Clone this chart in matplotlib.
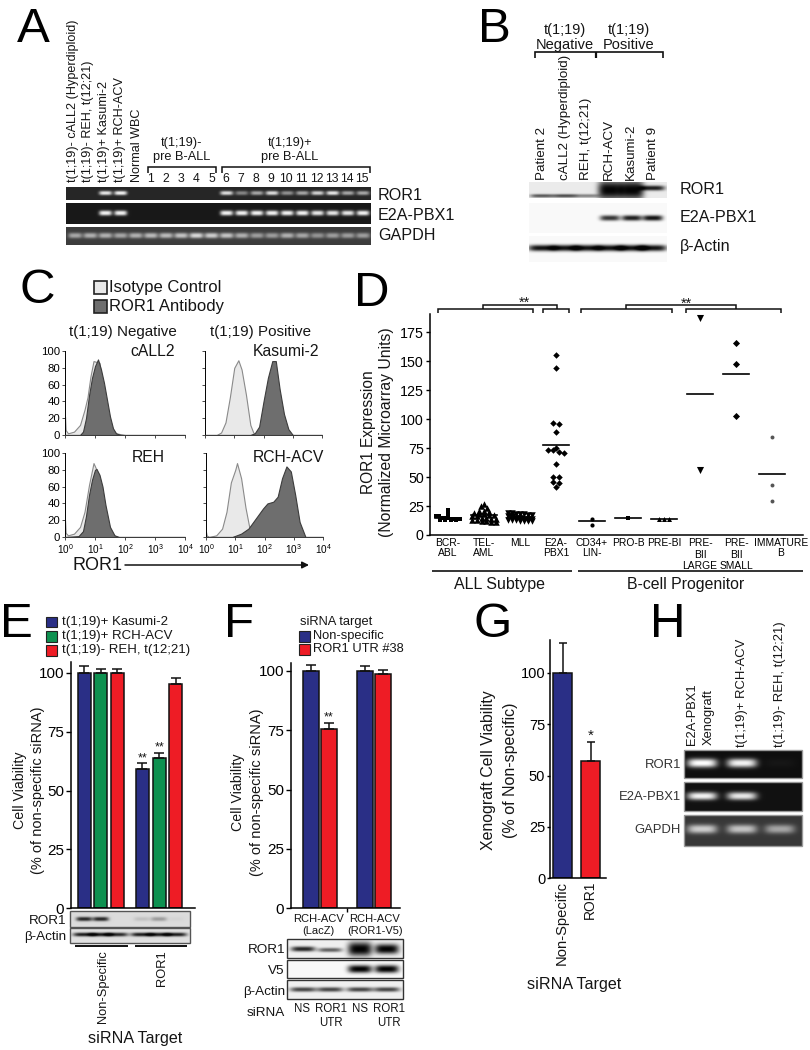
import numpy as np
import matplotlib
matplotlib.use("Agg")
import matplotlib.pyplot as plt
from matplotlib.patches import Rectangle
from matplotlib.transforms import ScaledTranslation

plt.rcParams['font.family'] = ['Liberation Sans', 'DejaVu Sans']
plt.rcParams['axes.linewidth'] = 1.1
plt.rcParams['text.color'] = '#151515'
plt.rcParams['mathtext.fontset'] = 'custom'
plt.rcParams['mathtext.rm'] = 'Liberation Sans'
plt.rcParams['mathtext.default'] = 'regular'

NAVY, GREEN, RED = '#2A2F86', '#0E9150', '#EE1C25'
LIGHT, DARK = '#E9E9E9', '#6E6E6E'

# ---------- data ----------
a_lanes_top = ["t(1;19)- cALL2 (Hyperdiploid)", "t(1;19)- REH, t(12;21)", "t(1;19)+ Kasumi-2", "t(1;19)+ RCH-ACV", "Normal WBC"]
a_numbers = [str(i) for i in range(1, 16)]
a_ror1 = [0, 0, .9, .95, 0, 0, 0, 0, 0, 0, .85, .45, .6, .85, .5, .6, .8, .9, .6, .6]
a_e2a = [0, 0, .95, .95, 0, 0, 0, 0, 0, 0, .95, .95, .95, .95, .95, .95, .9, .9, .9, .95]
a_gapdh = [.55, .6, .6, .55, .6, .65, .65, .7, .8, .75, .7, .6, .5, .5, .6, .55, .45, .5, .5, .5]

b_lanes = ["Patient 2", "cALL2 (Hyperdiploid)", "REH, t(12;21)", "RCH-ACV", "Kasumi-2", "Patient 9"]
b_ror1 = [.65, .7, .45, 1.0, 1.0, .9]
b_e2a = [0, 0, 0, .8, .9, .95]
b_actin = [.95, .95, .95, .95, .95, .95]

call2_iso_x = [0, .02, .1, .3, .5, .65, .75, .85, .95, 1.05, 1.15, 1.25, 1.4, 1.55, 1.7, 2, 4]
call2_iso_y = [22, 6, 2, 4, 12, 30, 45, 70, 88, 87, 86, 60, 28, 8, 2, 0, 0]
call2_ab_x = [0, .5, .6, .7, .8, .9, 1.0, 1.1, 1.2, 1.3, 1.4, 1.5, 1.6, 1.7, 1.85, 4]
call2_ab_y = [0, 0, 4, 20, 47, 68, 82, 90, 78, 62, 42, 22, 8, 2, 0, 0]
kas_iso_x = [0, .4, .55, .7, .85, 1.0, 1.14, 1.25, 1.4, 1.55, 1.65, 1.75, 4]
kas_iso_y = [0, 0, 3, 15, 45, 80, 89, 78, 48, 12, 3, 0, 0]
kas_ab_x = [0, 1.55, 1.7, 1.85, 2.0, 2.15, 2.3, 2.42, 2.55, 2.7, 2.85, 3.0, 4]
kas_ab_y = [0, 0, 2, 10, 40, 68, 88, 88, 55, 25, 7, 0, 0]
reh_iso_x = [0, .02, .1, .3, .5, .65, .8, .95, 1.05, 1.2, 1.35, 1.5, 1.7, 4]
reh_iso_y = [20, 5, 2, 4, 12, 30, 62, 88, 80, 55, 25, 7, 0, 0]
reh_ab_x = [0, .45, .6, .7, .8, .9, 1.0, 1.05, 1.15, 1.25, 1.35, 1.5, 1.65, 1.8, 4]
reh_ab_y = [0, 1, 7, 25, 50, 68, 80, 81, 74, 60, 38, 12, 2, 0, 0]
rch_iso_x = [0, .02, .1, .35, .55, .7, .85, 1.0, 1.06, 1.2, 1.35, 1.5, 1.65, 4]
rch_iso_y = [6, 2, 0, 2, 10, 30, 65, 80, 88, 70, 35, 8, 0, 0]
rch_ab_x = [0, .9, 1.2, 1.45, 1.7, 1.95, 2.1, 2.3, 2.45, 2.6, 2.75, 2.9, 3.05, 3.2, 3.4, 4]
rch_ab_y = [0, 0, 4, 10, 22, 34, 40, 42, 48, 70, 84, 78, 50, 18, 0, 0]

d_labels = ["BCR-\nABL", "TEL-\nAML", "MLL", "E2A-\nPBX1", "CD34+\nLIN-", "PRO-B", "PRE-BI",
            "PRE-\nBII\nLARGE", "PRE-\nBII\nSMALL", "IMMATURE\nB"]
d_values = [
    [22, 18, 16, 16, 15, 15, 15, 14, 14, 14, 14, 13, 13, 13, 13],
    [27, 25, 23, 21, 21, 20, 19, 18, 18, 17, 17, 16, 16, 15, 15, 14, 14, 13, 13, 12, 12, 11, 11],
    [19, 19, 18, 18, 18, 17, 17, 16, 16, 16, 15, 15, 15, 14, 14, 14, 14, 13, 13, 13, 12, 12, 12, 12],
    [155, 144, 97, 95.5, 89, 75, 73, 73, 71.5, 71, 61, 50, 50, 45.5, 44.5, 41.5],
    [13.5, 9], [15], [14, 14, 14], [187, 56], [166, 148, 103], [85, 43, 29]]
d_means = [15, 17, 15, 78, 12, 15, 14, 122, 139, 53]
d_markers = ['s', '^', 'v', 'D', 'o', 's', '^', 'v', 'D', 'o']
d_sizes = [10, 22, 22, 11, 9, 10, 13, 26, 13, 8]
d_colors = ['k'] * 9 + ['#555555']

e_names = ["t(1;19)+ Kasumi-2", "t(1;19)+ RCH-ACV", "t(1;19)- REH, t(12;21)"]
e_ns = [100, 100, 100]
e_ns_err = [3, 1.5, 1.5]
e_ror1 = [59, 64, 95.5]
e_ror1_err = [2.7, 2, 2.3]
e_blot_ror1 = [.85, .85, 0, .12, .3, .03]
e_blot_actin = [.9, .9, .85, .9, .9, .9]

f_groups = ["RCH-ACV\n(LacZ)", "RCH-ACV\n(ROR1-V5)"]
f_ns = [100, 100]
f_ns_err = [2.5, 2]
f_utr = [75.7, 98.8]
f_utr_err = [2.5, 1.8]
f_blot_ror1 = [.85, .6, 1.0, 1.0]
f_blot_v5 = [0, 0, 1.0, 1.0]
f_blot_actin = [.75, .75, .75, .75]
f_lane_labels = ["NS", "ROR1\nUTR", "NS", "ROR1\nUTR"]

g_names = ["Non-Specific", "ROR1"]
g_vals = [100, 57]
g_err = [14.6, 9.3]

h_lanes = ["t(1;19)+ RCH-ACV", "t(1;19)- REH, t(12;21)"]
h_ror1 = [1.0, .95, .03]
h_e2a = [.95, .9, 0]
h_gapdh = [.75, .7, .55]

# ---------- helpers ----------
fig = plt.figure(figsize=(8.1, 10.5), dpi=100)
ov = fig.add_axes([0, 0, 1, 1])
ov.set_xlim(0, 810)
ov.set_ylim(1050, 0)
ov.axis('off')
ov.autoscale(False)


def T(x, y, s, size=9, ha='center', va='center', rot=0, **kw):
    ov.text(x, y, s, fontsize=size, ha=ha, va=va, rotation=rot, linespacing=kw.pop('ls', 1.05), **kw)


def L(xs, ys, lw=1.1, c='#111111'):
    ov.plot(xs, ys, color=c, lw=lw, solid_capstyle='butt', solid_joinstyle='miter')


def bracket(x0, x1, ytop, ybot, lw=1.1):
    L([x0, x0, x1, x1], [ybot, ytop, ytop, ybot], lw)


def pxaxes(x0, ytop, x1, ybot):
    ax = fig.add_axes([x0 / 810, 1 - ybot / 1050, (x1 - x0) / 810, (ybot - ytop) / 1050])
    ax.patch.set_alpha(0)
    for s in ('top', 'right'):
        ax.spines[s].set_visible(False)
    return ax


def gel(x0, x1, y0, y1, bg, fg, lanes, amps, yc, w, h, edge=None):
    xx = np.linspace(x0, x1, int(2 * (x1 - x0)))
    yy = np.linspace(y0, y1, max(int(2 * (y1 - y0)), 2))
    X, Y = np.meshgrid(xx, yy)
    ycs = yc if np.ndim(yc) else [yc] * len(lanes)
    hs = h if np.ndim(h) else [h] * len(lanes)
    val = np.zeros_like(X)
    for lx, a, yv, hv in zip(lanes, amps, ycs, hs):
        val += a * np.exp(-((X - lx) / w) ** 4) * np.exp(-np.abs((Y - yv) / hv) ** 2.4)
    val = np.clip(val, 0, 1)
    img = bg + (fg - bg) * val
    ov.imshow(img, extent=(x0, x1, y1, y0), cmap='gray', vmin=0, vmax=1, aspect='auto',
              interpolation='bilinear', zorder=1)
    if edge:
        ov.add_patch(Rectangle((x0, y0), x1 - x0, y1 - y0, fill=False, ec=edge, lw=1, zorder=2))


for s, x, y in [('A', 17, 42), ('B', 477.5, 42), ('C', 20, 303), ('D', 354, 306),
                ('E', 0, 637), ('F', 224, 637), ('G', 473, 637), ('H', 650, 637)]:
    T(x, y, s, size=35.5, ha='left', va='baseline', color='black')

# ---------- Panel A ----------
a_x = [75 + 15.17 * i for i in range(20)]
gel(66, 371, 187, 200, .15, 1, a_x, a_ror1, 193, 6.5, 2.2)
gel(66, 371, 203, 224, .1, 1, a_x, a_e2a, 213, 6.5, 2.6)
gel(66, 371, 227, 245, .24, 1, a_x, a_gapdh, 235.5, 7, 2.8)
for x, s in zip([73, 88, 104.5, 120, 136.5], a_lanes_top):
    T(x, 182, s, size=9.1, va='bottom', rot=90)
for x, s in zip(a_x[5:], a_numbers):
    T(x + (0 if x < 220 else -1), 178.5, s, size=8.8)
T(182, 150, "t(1;19)-\npre B-ALL", size=9.2, ls=1.3)
T(290, 150, "t(1;19)+\npre B-ALL", size=9.2, ls=1.3)
bracket(148, 216, 167, 173)
bracket(222, 370, 167, 173)
for y, s in zip([195, 216, 236], ["ROR1", "E2A-PBX1", "GAPDH"]):
    T(378, y, s, size=11.6, ha='left')

# ---------- Panel B ----------
b_x = [542, 565, 587, 610, 632, 653]
gel(529, 667, 182, 198, .92, .02, b_x, b_ror1, [196, 196, 196, 190, 190, 188], 12,
    [1.8, 1.8, 1.8, 10, 10, 2.6])
gel(529, 667, 203, 233, .98, .02, b_x, b_e2a, 218, 10, 2.8)
gel(529, 667, 236, 262, .98, .02, b_x, b_actin, 248, 14, 3.2)
for x, s in zip([542, 565, 586, 609, 631, 653], b_lanes):
    T(x, 180, s, size=9.6, va='bottom', rot=90)
T(565, 37.5, "t(1;19)\nNegative", size=10.5, ls=1.12)
T(629, 37.5, "t(1;19)\nPositive", size=10.5, ls=1.12)
bracket(535, 663, 52, 58, 1.2)
L([596, 596], [52, 58], 1.6)
for y, s in zip([189, 218, 247], ["ROR1", "E2A-PBX1", "\u03b2-Actin"]):
    T(680, y, s, size=11.6, ha='left')

# ---------- Panel C ----------
ov.add_patch(Rectangle((93.5, 281), 13, 13, fc=LIGHT, ec='#222222', lw=1.2))
ov.add_patch(Rectangle((93.5, 299.5), 13, 13, fc=DARK, ec='#222222', lw=1.2))
T(109, 287.5, "Isotype Control", size=12, ha='left')
T(109, 306, "ROR1 Antibody", size=12, ha='left')
T(123, 332, "t(1;19) Negative", size=10.9)
T(260, 332, "t(1;19) Positive", size=10.9)


def hist(box, name, namepos, iso, ab, ylab, xlab):
    ax = pxaxes(*box)
    ax.set_xscale('log')
    ax.fill_between(10 ** np.array(iso[0], float), iso[1], color=LIGHT, ec='#8A8A8A', lw=.8, zorder=2)
    ax.fill_between(10 ** np.array(ab[0], float), ab[1], color=DARK, ec='#3C3C3C', lw=.8, zorder=3)
    ax.set_xlim(1, 1e4)
    ax.set_ylim(0, 100)
    ax.spines['left'].set_linewidth(.7)
    ax.spines['bottom'].set_linewidth(.7)
    ax.set_xticks([1, 10, 100, 1000, 10000])
    ax.tick_params(axis='both', which='major', length=2, width=.5, pad=1.5, labelsize=8.2)
    ax.tick_params(axis='x', which='minor', length=1, width=.4, labelbottom=False)
    ax.tick_params(axis='x', labelsize=7.2)
    ax.set_yticks([0, 20, 40, 60, 80, 100])
    if not ylab:
        ax.set_yticklabels([])
    if xlab:
        ax.set_xticklabels(['10$^{%d}$' % i for i in range(5)])
    else:
        ax.set_xticklabels([])
    T(namepos[0], namepos[1], name, size=11.3)


hist((65, 351, 185, 435), "cALL2", (153, 352), (call2_iso_x, call2_iso_y), (call2_ab_x, call2_ab_y), True, False)
hist((205, 351, 322, 435), "Kasumi-2", (286, 352), (kas_iso_x, kas_iso_y), (kas_ab_x, kas_ab_y), False, False)
hist((65, 453, 185, 537), "REH", (148, 457), (reh_iso_x, reh_iso_y), (reh_ab_x, reh_ab_y), True, True)
hist((206, 453, 323, 537), "RCH-ACV", (288, 457), (rch_iso_x, rch_iso_y), (rch_ab_x, rch_ab_y), False, True)
T(73, 565, "ROR1", size=13, ha='left')
ov.annotate('', xy=(309, 565), xytext=(125, 565),
            arrowprops=dict(arrowstyle='-|>', color='#111111', lw=1.1, mutation_scale=10, shrinkA=0, shrinkB=0))

# ---------- Panel D ----------
axd = pxaxes(430, 314, 803, 535)
axd.set_ylim(0, (535 - 314) / (535 - 332.3) * 175)
axd.set_xlim(-0.5, 9.86)


def swarm(vals, binw=3.0, step=0.14, half=0.33):
    vals = np.asarray(vals, float)
    off = np.zeros(len(vals))
    bins = np.round(vals / binw)
    for b in np.unique(bins):
        idx = np.where(bins == b)[0]
        st = step if len(idx) < 2 else min(step, 2 * half / (len(idx) - 1))
        off[idx] = (np.arange(len(idx)) - (len(idx) - 1) / 2) * st
    return off


for i, (vals, m, c, mean, sz) in enumerate(zip(d_values, d_markers, d_colors, d_means, d_sizes)):
    axd.scatter(i + swarm(vals), vals, marker=m, s=sz, color=c, lw=0, zorder=3)
    axd.plot([i - .35, i + .35], [mean, mean], color='k', lw=1.2, zorder=4)
axd.set_yticks([0, 25, 50, 75, 100, 125, 150, 175])
axd.tick_params(axis='y', labelsize=10.3, length=3, width=1, pad=1.5)
axd.set_xticks(range(10))
axd.set_xticklabels(d_labels, fontsize=7.4, linespacing=1.05, va='top')
axd.tick_params(axis='x', length=0, pad=2)
for lab, txt in zip(axd.get_xticklabels(), d_labels):
    if txt.count("\n") == 2:
        lab.set_linespacing(1.22)
lab9 = axd.get_xticklabels()[9]
lab9.set_transform(lab9.get_transform() + ScaledTranslation(.09, 0, fig.dpi_scale_trans))
T(368, 432, "ROR1 Expression", size=11.2, rot=90)
T(387, 432, "(Normalized Microarray Units)", size=11.3, rot=90)
bracket(438, 533, 308.5, 313)
bracket(543, 569, 308.5, 313)
bracket(483, 557, 304.5, 308.5)
bracket(581, 672, 308.5, 313)
bracket(686, 781, 308.5, 313)
bracket(626, 736, 304.5, 308.5)
T(524, 303, "**", size=10.5)
T(686, 303.5, "**", size=10.5)
L([432, 572], [571, 571], 1.2)
L([578, 803], [571, 571], 1.2)
T(500, 584, "ALL Subtype", size=11.5)
T(686, 584, "B-cell Progenitor", size=11.4)

# ---------- Panel E ----------
for y, c, s in zip([621.5, 636, 650], [NAVY, GREEN, RED], e_names):
    ov.add_patch(Rectangle((46, y - 5), 10.5, 10.5, fc=c, ec='#222222', lw=.8))
    T(62, y, s, size=9.5, ha='left')
axe = pxaxes(71, 662, 195, 908)
axe.set_ylim(0, (908 - 662) / (908 - 673) * 100)
axe.set_xlim(-0.78, 6.65)
n = len(e_ns)
e_pos = np.r_[np.arange(n), np.arange(n) + n + .5]
e_vals = e_ns + e_ror1
e_errs = e_ns_err + e_ror1_err
axe.bar(e_pos, e_vals, width=.78, color=[NAVY, GREEN, RED] * 2, ec='#111111', lw=1.1,
        yerr=[[0] * 6, e_errs], error_kw=dict(ecolor='#111111', lw=1.1, capsize=3.5, capthick=1.1))
for p, v, er in zip(e_pos[3:5], e_vals[3:5], e_errs[3:5]):
    axe.text(p, v + er - .4, "**", ha='center', va='bottom', fontsize=9)
axe.set_yticks([0, 25, 50, 75, 100])
axe.set_xticks([])
axe.tick_params(axis='y', labelsize=11, length=3.5, width=1, pad=1.5)
T(20, 790, "Cell Viability", size=10.2, rot=90)
T(38, 790, "(% of non-specific siRNA)", size=10.5, rot=90)
e_lanes = [84, 100.7, 117, 142, 159, 176]
gel(70, 190, 911, 927, .86, .02, e_lanes, e_blot_ror1, 919, 8, 2.2, edge='#555555')
gel(70, 190, 928, 943, .88, .02, e_lanes, e_blot_actin, 934.5, 11, 2.0, edge='#555555')
T(66, 921.5, "ROR1", size=9.7, ha='right')
T(66, 937, "\u03b2-Actin", size=9.7, ha='right')
L([75, 128], [946, 946], 1.4)
L([135, 187], [946, 946], 1.4)
T(103, 950, "Non-Specific", size=9.3, va='top', rot=90)
T(162, 950, "ROR1", size=9.3, va='top', rot=90)
T(135, 1039, "siRNA Target", size=11.6)

# ---------- Panel F ----------
T(300, 622, "siRNA target", size=9.3, ha='left')
for y, c, s in zip([636, 649], [NAVY, RED], ["Non-specific", "ROR1 UTR #38"]):
    ov.add_patch(Rectangle((298.5, y - 5), 11.5, 10.5, fc=c, ec='#222222', lw=.8))
    T(313, y, s, size=9.3, ha='left')
axf = pxaxes(291, 663, 400, 908)
axf.set_ylim(0, (908 - 663) / (908 - 671) * 100)
axf.set_xlim((291 - 311) / 18, (400 - 311) / 18)
f_pos = [0, 1, 3, 4]
f_vals = [f_ns[0], f_utr[0], f_ns[1], f_utr[1]]
f_errs = [f_ns_err[0], f_utr_err[0], f_ns_err[1], f_utr_err[1]]
axf.bar(f_pos, f_vals, width=.93, color=[NAVY, RED] * 2, ec='#111111', lw=1.1,
        yerr=[[0] * 4, f_errs], error_kw=dict(ecolor='#111111', lw=1.1, capsize=3.5, capthick=1.1))
axf.text(1, f_vals[1] + f_errs[1] - .2, "**", ha='center', va='bottom', fontsize=9)
axf.set_yticks([0, 25, 50, 75, 100])
axf.set_xticks([2])
axf.set_xticklabels([''])
axf.tick_params(axis='y', labelsize=11, length=3.5, width=1, pad=1.5)
axf.tick_params(axis='x', length=3, width=1)
T(238, 792, "Cell Viability", size=10.2, rot=90)
T(257, 792, "(% of non-specific siRNA)", size=10.5, rot=90)
T(318, 925, f_groups[0], size=8, ls=1.15)
T(375, 925, f_groups[1], size=8, ls=1.15)
f_lanes = [303, 330, 360, 387]
gel(287, 403, 939, 958, .94, 0, f_lanes, f_blot_ror1, [949, 950, 949, 949], 12, [2.6, 2.2, 7, 5], edge='#333333')
gel(287, 403, 960, 978, .98, 0, f_lanes, f_blot_v5, 969, 12, 4, edge='#333333')
gel(287, 403, 980, 999, .94, .05, f_lanes, f_blot_actin, 989.5, 13, 2.4, edge='#333333')
for y, s in zip([950, 971, 992, 1013], ["ROR1", "V5", "\u03b2-Actin", "siRNA"]):
    T(285, y, s, size=9.7, ha='right')
for x, s in zip([302, 331, 360, 389], f_lane_labels):
    T(x, 1002.5, s, size=8.3, va='top', ls=1.3)

# ---------- Panel G ----------
axg = pxaxes(550, 640, 606, 878)
axg.set_ylim(0, (878 - 640) / (878 - 673) * 100)
axg.set_xlim((550 - 562.5) / 28, (606 - 562.5) / 28)
axg.bar([0, 1], g_vals, width=.66, color=[NAVY, RED], ec='#111111', lw=1.1,
        yerr=[[0, 0], g_err], error_kw=dict(ecolor='#111111', lw=1.1, capsize=3, capthick=1.1))
axg.text(1, g_vals[1] + g_err[1] - .5, "*", ha='center', va='bottom', fontsize=11)
axg.set_yticks([0, 25, 50, 75, 100])
axg.set_xticks([])
axg.tick_params(axis='y', labelsize=10.5, length=2, width=1, pad=1.5)
T(489, 770, "Xenograft Cell Viability", size=11.4, rot=90)
T(510, 770, "(% of Non-specific)", size=11.5, rot=90)
T(562, 881, g_names[0], size=10.6, va='top', rot=90)
T(590, 881, g_names[1], size=10, va='top', rot=90)
T(574, 985, "siRNA Target", size=11.6)

# ---------- Panel H ----------
h_x = [702, 742, 780]
gel(684, 802, 750, 778, .06, 1, h_x, h_ror1, 763, 15, 4.5, edge='#999999')
gel(684, 802, 782, 811, .07, 1, h_x, h_e2a, 796, 15, 4, edge='#999999')
gel(684, 802, 815, 846, .22, 1, h_x, h_gapdh, 829, 15, 4.5, edge='#999999')
for y, s in zip([765, 797, 830], ["ROR1", "E2A-PBX1", "GAPDH"]):
    T(681, y, s, size=9.4, ha='right', color='#333333')
T(692, 745, "E2A-PBX1", size=9.3, va='bottom', rot=90)
T(709, 745, "Xenograft", size=9.3, va='bottom', rot=90)
T(742, 747, h_lanes[0], size=9.4, va='bottom', rot=90)
T(780, 747, h_lanes[1], size=9.4, va='bottom', rot=90)

fig.savefig("out.png", dpi=100)
